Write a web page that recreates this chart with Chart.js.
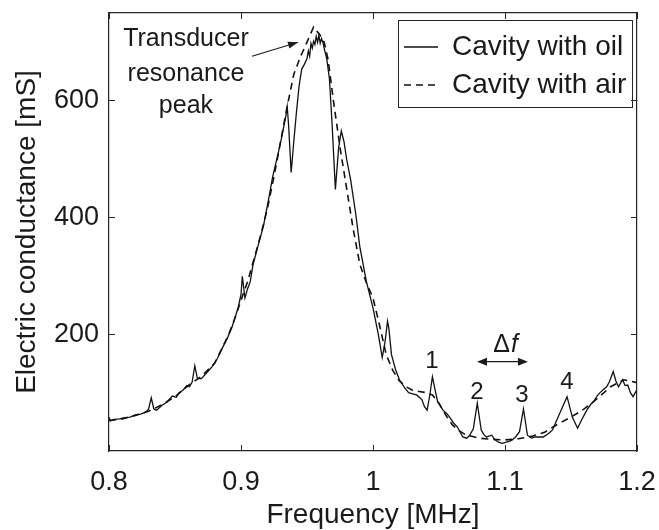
<!DOCTYPE html>
<html>
<head>
<meta charset="utf-8">
<script src="https://cdn.jsdelivr.net/npm/chart.js@4.4.1/dist/chart.umd.min.js"></script>
<style>
  html, body { margin: 0; padding: 0; background: #fff; }
  canvas { display: block; }
</style>
</head>
<body>
<canvas id="chart" width="659" height="530"></canvas>
<script>
// --- DATA ---
// Cavity with oil (solid)
const oilFreq = [0.800, 0.801, 0.804, 0.808, 0.812, 0.816, 0.820, 0.824, 0.828, 0.830, 0.832, 0.834, 0.836, 0.840,
  0.844, 0.848, 0.851, 0.853, 0.856, 0.859, 0.861, 0.863, 0.865, 0.867, 0.870, 0.874, 0.878, 0.882, 0.886,
  0.890, 0.893, 0.896, 0.898, 0.900, 0.901, 0.903, 0.905, 0.907, 0.909, 0.913, 0.917, 0.921, 0.924, 0.928,
  0.931, 0.934, 0.935, 0.936, 0.938, 0.940, 0.942, 0.944, 0.946, 0.948, 0.950, 0.951, 0.952, 0.953, 0.954,
  0.955, 0.956, 0.957, 0.958, 0.959, 0.960, 0.961, 0.962, 0.963, 0.965, 0.967, 0.969, 0.9715, 0.974, 0.976,
  0.978, 0.980, 0.983, 0.987, 0.990, 0.995, 1.000, 1.004, 1.007, 1.009, 1.011, 1.012, 1.014, 1.017, 1.020,
  1.024, 1.027, 1.030, 1.033, 1.037, 1.039, 1.041, 1.043, 1.045, 1.047, 1.049, 1.053, 1.056, 1.058, 1.061,
  1.064, 1.066, 1.068, 1.071, 1.073, 1.076, 1.079, 1.082, 1.084, 1.086, 1.090, 1.092, 1.095, 1.098, 1.101,
  1.105, 1.108, 1.111, 1.114, 1.117, 1.120, 1.123, 1.129, 1.133, 1.136, 1.140, 1.147, 1.151, 1.155, 1.158,
  1.162, 1.165, 1.167, 1.170, 1.172, 1.175, 1.177, 1.179, 1.182, 1.184, 1.186, 1.189, 1.191, 1.193, 1.195,
  1.197, 1.200];
const oilG = [58, 52, 54, 55, 57, 58, 62, 63, 67, 72, 91, 72, 70, 78,
  84, 94, 92, 100, 104, 112, 110, 118, 146, 124, 124, 134, 144, 158, 177,
  195, 211, 232, 247, 268, 299, 262, 278, 290, 318, 352, 385, 432, 470, 508,
  539, 574, 590, 560, 477, 530, 580, 625, 654, 662, 672, 685, 676, 698, 690,
  702, 696, 710, 700, 712, 698, 706, 700, 690, 671, 637, 560, 448, 520, 548,
  530, 500, 465, 405, 350, 290, 245, 200, 160, 185, 222, 210, 165, 140, 122,
  108, 100, 98, 96, 88, 76, 70, 95, 127, 105, 84, 70, 64, 58, 48,
  41, 32, 24, 22, 26, 38, 82, 36, 28, 24, 27, 20, 15, 13, 15,
  18, 24, 33, 72, 27, 22, 24, 24, 30, 36, 57, 93, 58, 39, 53,
  70, 80, 84, 95, 100, 106, 110, 118, 136, 120, 110, 122, 112, 113, 100,
  93, 105];

// Cavity with air (dashed)
const airFreq = [0.800, 0.810, 0.820, 0.830, 0.840, 0.850, 0.860, 0.870, 0.880, 0.890, 0.895, 0.900, 0.905,
  0.910, 0.915, 0.920, 0.925, 0.930, 0.935, 0.940, 0.945, 0.950, 0.955, 0.960, 0.963, 0.966, 0.970, 0.975,
  0.980, 0.985, 0.990, 0.995, 1.000, 1.005, 1.010, 1.015, 1.020, 1.025, 1.030, 1.035, 1.040, 1.045, 1.050,
  1.055, 1.060, 1.065, 1.070, 1.080, 1.090, 1.100, 1.110, 1.120, 1.130, 1.140, 1.150, 1.160, 1.170, 1.180,
  1.190, 1.200];
const airG = [52, 55, 61, 68, 79, 93, 112, 128, 150, 196, 225, 258, 290,
  330, 370, 415, 470, 530, 590, 645, 675, 700, 726, 712, 700, 670, 600, 520,
  450, 380, 320, 288, 262, 215, 165, 138, 120, 110, 104, 102, 100, 96, 82,
  62, 45, 35, 28, 22, 20, 19, 21, 25, 32, 46, 58, 72, 90, 110,
  122, 117];

const xTicks = [0.8, 0.9, 1.0, 1.1, 1.2];
const yTicks = [200, 400, 600];

// --- ANNOTATIONS (data coordinates) ---
const peakText = [
  { text: '1', f: 1.0447, g: 153 },
  { text: '2', f: 1.0788, g: 101 },
  { text: '3', f: 1.1129, g: 96 },
  { text: '4', f: 1.147, g: 118 }
];
const resonanceText = ['Transducer', 'resonance', 'peak'];

const INK = '#1a1a1a';
const AXIS = '#262626';
const FONT = "'Liberation Sans', Arial, sans-serif";
Chart.defaults.font.family = FONT;
Chart.defaults.color = INK;

function toPoints(xs, ys) {
  return xs.map((f, i) => ({ x: f, y: ys[i] }));
}

function arrowHead(ctx, x0, y0, x1, y1, len, half) {
  const a = Math.atan2(y1 - y0, x1 - x0);
  ctx.beginPath();
  ctx.moveTo(x1, y1);
  ctx.lineTo(x1 - len * Math.cos(a) + half * Math.sin(a), y1 - len * Math.sin(a) - half * Math.cos(a));
  ctx.lineTo(x1 - len * Math.cos(a) - half * Math.sin(a), y1 - len * Math.sin(a) + half * Math.cos(a));
  ctx.closePath();
  ctx.fill();
}

const notesPlugin = {
  id: 'notes',
  afterLayout(chart) {
    // put the legend in the upper right corner of the plot
    const lg = chart.legend, area = chart.chartArea;
    lg.left = area.right - 243;
    lg.top = area.top + 10;
  },
  afterDraw(chart) {
    const { ctx, chartArea } = chart;
    const xs = chart.scales.x, ys = chart.scales.y;
    const px = v => xs.getPixelForValue(v);
    const py = v => ys.getPixelForValue(v);
    ctx.save();

    // legend frame
    const hb = chart.legend.legendHitBoxes;
    if (hb && hb.length) {
      const last = hb[hb.length - 1];
      const left = hb[0].left - 6, top = hb[0].top - 13;
      ctx.strokeStyle = AXIS;
      ctx.lineWidth = 1;
      ctx.strokeRect(Math.round(left) + 0.5, Math.round(top) + 0.5,
        Math.round(chartArea.right - 5 - left), Math.round(last.top + last.height + 8 - top));
    }

    ctx.fillStyle = INK;
    ctx.strokeStyle = INK;
    ctx.textAlign = 'center';
    ctx.textBaseline = 'middle';

    // resonance peak label + arrow
    ctx.font = '25px ' + FONT;
    const lineG = [705, 645, 590];
    resonanceText.forEach((t, i) => ctx.fillText(t, px(0.8583), py(lineG[i])));
    const ax0 = px(0.9083), ay0 = py(676), ax1 = px(0.9432), ay1 = py(700);
    ctx.lineWidth = 1.2;
    ctx.beginPath();
    ctx.moveTo(ax0, ay0);
    ctx.lineTo(ax1, ay1);
    ctx.stroke();
    arrowHead(ctx, ax0, ay0, ax1, ay1, 10, 3.5);

    // numbered resonances
    ctx.font = '24px ' + FONT;
    peakText.forEach(p => ctx.fillText(p.text, px(p.f), py(p.g)));

    // delta f and double arrow
    const dx = px(1.1), dy = py(182);
    ctx.font = '25px ' + FONT;
    const wD = ctx.measureText('\u0394').width;
    ctx.font = 'italic 25px ' + FONT;
    const wF = ctx.measureText('f').width;
    ctx.textAlign = 'left';
    ctx.font = '25px ' + FONT;
    ctx.fillText('\u0394', dx - (wD + wF) / 2, dy);
    ctx.font = 'italic 25px ' + FONT;
    ctx.fillText('f', dx - (wD + wF) / 2 + wD + 1, dy);

    const bx0 = px(1.0788), bx1 = px(1.1174), by = py(153);
    ctx.lineWidth = 1.2;
    ctx.beginPath();
    ctx.moveTo(bx0 + 4, by);
    ctx.lineTo(bx1 - 4, by);
    ctx.stroke();
    arrowHead(ctx, bx1, by, bx0, by, 10, 4);
    arrowHead(ctx, bx0, by, bx1, by, 10, 4);

    ctx.restore();
  }
};

const tickGrid = { drawOnChartArea: false, tickLength: -6, color: AXIS, lineWidth: 1 };
const border = { color: AXIS, width: 1.2 };
const setXTicks = s => { s.ticks = xTicks.map(v => ({ value: v })); };
const setYTicks = s => { s.ticks = yTicks.map(v => ({ value: v })); };
// fixed axis box sizes, no extra padding for overhanging labels
const fixSize = (w, h) => s => {
  if (w !== null) s.width = w;
  if (h !== null) s.height = h;
  s.paddingTop = s.paddingBottom = s.paddingLeft = s.paddingRight = 0;
};

new Chart(document.getElementById('chart'), {
  type: 'line',
  data: {
    datasets: [
      {
        label: 'Cavity with oil',
        data: toPoints(oilFreq, oilG),
        borderColor: '#111',
        borderWidth: 1.3,
        pointRadius: 0,
        tension: 0,
        xAxisID: 'x',
        yAxisID: 'y'
      },
      {
        label: 'Cavity with air',
        data: toPoints(airFreq, airG),
        borderColor: '#111',
        borderWidth: 1.6,
        borderDash: [7, 5],
        pointRadius: 0,
        tension: 0,
        xAxisID: 'x',
        yAxisID: 'y'
      }
    ]
  },
  options: {
    responsive: false,
    animation: false,
    devicePixelRatio: 1,
    layout: { padding: 0, autoPadding: false },
    scales: {
      x: {
        type: 'linear', position: 'bottom', min: 0.8, max: 1.2,
        afterBuildTicks: setXTicks,
        afterFit: fixSize(null, 79),
        ticks: { font: { size: 27 }, color: INK, padding: 21, maxRotation: 0,
          callback: v => String(+v.toFixed(1)) },
        grid: tickGrid, border: border,
        title: { display: true, text: 'Frequency [MHz]', color: INK,
          font: { size: 28, lineHeight: 1 }, padding: { top: 0, bottom: 1 } }
      },
      x2: {
        type: 'linear', position: 'top', min: 0.8, max: 1.2,
        afterBuildTicks: setXTicks,
        afterFit: fixSize(null, 13),
        ticks: { display: false },
        grid: tickGrid, border: border
      },
      y: {
        type: 'linear', position: 'left', min: 0, max: 750,
        afterBuildTicks: setYTicks,
        afterFit: fixSize(109, null),
        ticks: { font: { size: 27 }, color: INK, padding: 16 },
        grid: tickGrid, border: border,
        title: { display: true, text: 'Electric conductance [mS]', color: INK,
          font: { size: 28, lineHeight: 1.2 }, padding: { top: 10, bottom: 0 } }
      },
      y2: {
        type: 'linear', position: 'right', min: 0, max: 750,
        afterBuildTicks: setYTicks,
        afterFit: fixSize(22, null),
        ticks: { display: false },
        grid: tickGrid, border: border
      }
    },
    plugins: {
      legend: {
        position: 'chartArea',
        align: 'start',
        labels: {
          usePointStyle: true,
          pointStyle: 'line',
          pointStyleWidth: 34,
          font: { size: 28 },
          color: INK,
          padding: 10,
          generateLabels: chart => chart.data.datasets.map((ds, i) => ({
            text: ds.label,
            datasetIndex: i,
            hidden: false,
            pointStyle: 'line',
            strokeStyle: ds.borderColor,
            fillStyle: ds.borderColor,
            fontColor: INK,
            lineWidth: ds.borderWidth,
            lineDash: ds.borderDash || []
          }))
        }
      },
      tooltip: { enabled: false }
    }
  },
  plugins: [notesPlugin]
});
</script>
</body>
</html>
